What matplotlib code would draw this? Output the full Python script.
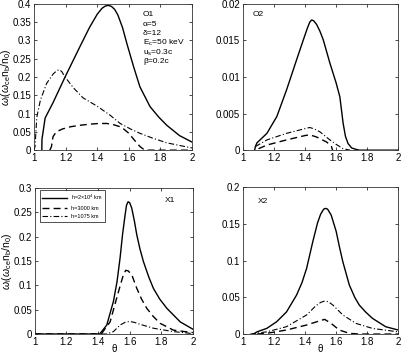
import matplotlib
matplotlib.use('Agg')
import matplotlib.pyplot as plt

plt.rcParams['font.family'] = ['Liberation Sans', 'DejaVu Sans']
plt.rcParams['mathtext.fontset'] = 'custom'
plt.rcParams['mathtext.rm'] = 'Liberation Sans'
plt.rcParams['mathtext.it'] = 'Liberation Sans:italic'

# ---- O1 panel ----
o1_solid_x = [1.049, 1.05, 1.07, 1.12, 1.196, 1.29, 1.35, 1.40, 1.43, 1.45, 1.47, 1.49, 1.51,
              1.53, 1.56, 1.587, 1.63, 1.67, 1.734, 1.79, 1.84, 1.92, 2.0]
o1_solid_y = [0.0, 0.03, 0.088, 0.13, 0.20, 0.283, 0.335, 0.372, 0.388, 0.394, 0.396, 0.393, 0.385,
              0.37, 0.335, 0.292, 0.228, 0.173, 0.119, 0.090, 0.068, 0.040, 0.022]
o1_dash_x = [1.10, 1.11, 1.12, 1.14, 1.18, 1.23, 1.29, 1.35, 1.41, 1.46, 1.50, 1.545, 1.57, 1.60,
             1.63, 1.67, 1.70, 2.0]
o1_dash_y = [0.0, 0.01, 0.037, 0.05, 0.058, 0.064, 0.068, 0.071, 0.073, 0.073, 0.070, 0.064, 0.057,
             0.046, 0.030, 0.01, 0.0, 0.0]
o1_dd_x = [1.0, 1.006, 1.017, 1.04, 1.08, 1.12, 1.145, 1.16, 1.175, 1.196, 1.25, 1.31, 1.40, 1.48,
           1.545, 1.61, 1.67, 1.75, 1.84, 2.0]
o1_dd_y = [0.0, 0.01, 0.09, 0.137, 0.183, 0.208, 0.218, 0.22, 0.215, 0.20, 0.17, 0.143, 0.12, 0.096,
           0.073, 0.058, 0.046, 0.033, 0.02, 0.006]

# ---- O2 panel ----
o2_solid_x = [1.075, 1.08, 1.09, 1.154, 1.218, 1.28, 1.346, 1.389, 1.415, 1.43, 1.442, 1.455, 1.474,
              1.495, 1.517, 1.56, 1.60, 1.624, 1.645, 1.66, 1.677, 1.70, 1.73, 1.75, 2.0]
o2_solid_y = [0.0, 0.0005, 0.001, 0.0023, 0.0046, 0.0082, 0.0124, 0.0151, 0.0167, 0.0175, 0.0178,
              0.0177, 0.0172, 0.0163, 0.0151, 0.0119, 0.0092, 0.0073, 0.0037, 0.0019, 0.0009,
              0.0003, 0.0001, 0.0, 0.0]
o2_dash_x = [1.1, 1.154, 1.28, 1.40, 1.43, 1.474, 1.54, 1.57, 1.577]
o2_dash_y = [0.0002, 0.0007, 0.0014, 0.002, 0.0021, 0.0018, 0.0011, 0.0005, 0.0]
o2_dd_x = [1.08, 1.154, 1.28, 1.41, 1.43, 1.46, 1.496, 1.56, 1.60, 1.645, 1.69]
o2_dd_y = [0.0005, 0.0014, 0.0023, 0.003, 0.0031, 0.0029, 0.0025, 0.0014, 0.0008, 0.0002, 0.0]

# ---- X1 panel ----
x1_solid_x = [1.0, 1.41, 1.455, 1.497, 1.52, 1.539, 1.555, 1.571, 1.58, 1.59, 1.60, 1.613, 1.63,
              1.645, 1.665, 1.687, 1.72, 1.75, 1.79, 1.835, 1.92, 2.0]
x1_solid_y = [0.0, 0.0, 0.0185, 0.067, 0.108, 0.156, 0.205, 0.245, 0.265, 0.272, 0.27, 0.259,
              0.232, 0.204, 0.175, 0.149, 0.118, 0.094, 0.072, 0.053, 0.025, 0.010]
x1_dash_x = [1.0, 1.42, 1.476, 1.51, 1.529, 1.56, 1.575, 1.59, 1.613, 1.645, 1.675, 1.708, 1.75,
             1.793, 1.877, 2.0]
x1_dash_y = [0.0, 0.0, 0.025, 0.065, 0.087, 0.122, 0.131, 0.13, 0.122, 0.094, 0.072, 0.053, 0.036,
             0.022, 0.008, 0.003]
x1_dd_x = [1.0, 1.455, 1.497, 1.539, 1.57, 1.60, 1.63, 1.666, 1.75, 1.877, 2.0]
x1_dd_y = [0.0, 0.0, 0.005, 0.0185, 0.024, 0.026, 0.024, 0.02, 0.012, 0.005, 0.001]

# ---- X2 panel ----
x2_solid_x = [1.068, 1.09, 1.153, 1.217, 1.28, 1.345, 1.38, 1.41, 1.45, 1.48, 1.50, 1.52, 1.532,
              1.545, 1.568, 1.60, 1.62, 1.643, 1.685, 1.72, 1.749, 1.79, 1.834, 1.919, 2.0]
x2_solid_y = [0.0, 0.003, 0.0077, 0.0168, 0.030, 0.053, 0.070, 0.0895, 0.126, 0.151, 0.163, 0.170,
              0.171, 0.170, 0.162, 0.14, 0.12, 0.0986, 0.0668, 0.050, 0.0395, 0.030, 0.0214, 0.010,
              0.0055]
x2_dash_x = [1.09, 1.153, 1.28, 1.41, 1.494, 1.526, 1.568, 1.62, 1.685, 1.75, 2.0]
x2_dash_y = [0.0, 0.001, 0.0055, 0.0123, 0.018, 0.020, 0.0145, 0.0055, 0.001, 0.0, 0.0]
x2_dd_x = [1.047, 1.153, 1.28, 1.41, 1.47, 1.50, 1.526, 1.55, 1.579, 1.643, 1.728, 1.834, 2.0]
x2_dd_y = [0.0, 0.003, 0.010, 0.026, 0.0386, 0.043, 0.045, 0.044, 0.0395, 0.026, 0.0145, 0.0077,
           0.003]

legend_labels = [r'h=2$\times$10$^4$ km', 'h=3000 km', 'h=1075 km']
xticks = [1, 1.2, 1.4, 1.6, 1.8, 2]
xtick_labels = ['1', '1.2', '1.4', '1.6', '1.8', '2']
ylabel = r'$\omega_\mathrm{i}(\omega_\mathrm{ce}\mathrm{n_b/n_0})$'

fig = plt.figure(figsize=(4.01, 3.55), dpi=100)
ax1 = fig.add_axes([0.085, 0.577, 0.394, 0.412])
ax2 = fig.add_axes([0.606, 0.577, 0.387, 0.412])
ax3 = fig.add_axes([0.087, 0.059, 0.394, 0.411])
ax4 = fig.add_axes([0.606, 0.059, 0.387, 0.414])

lw = 1.0
dash = (0, (5, 3))
dashdot = (0, (5, 2, 1, 2))

panels = [
    (ax1, o1_solid_x, o1_solid_y, o1_dash_x, o1_dash_y, o1_dd_x, o1_dd_y, 0.4,
     [0, 0.05, 0.1, 0.15, 0.2, 0.25, 0.3, 0.35, 0.4], ['0', '0.05', '0.1', '0.15', '0.2', '0.25', '0.3', '0.35', '0.4']),
    (ax2, o2_solid_x, o2_solid_y, o2_dash_x, o2_dash_y, o2_dd_x, o2_dd_y, 0.02,
     [0, 0.005, 0.01, 0.015, 0.02], ['0', '0.005', '0.01', '0.015', '0.02']),
    (ax3, x1_solid_x, x1_solid_y, x1_dash_x, x1_dash_y, x1_dd_x, x1_dd_y, 0.3,
     [0, 0.05, 0.1, 0.15, 0.2, 0.25, 0.3], ['0', '0.05', '0.1', '0.15', '0.2', '0.25', '0.3']),
    (ax4, x2_solid_x, x2_solid_y, x2_dash_x, x2_dash_y, x2_dd_x, x2_dd_y, 0.2,
     [0, 0.05, 0.1, 0.15, 0.2], ['0', '0.05', '0.1', '0.15', '0.2']),
]

for ax, sx, sy, dx, dy, ddx, ddy, ymax, yt, ytl in panels:
    ax.plot(sx, sy, color='black', lw=lw, linestyle='-', label=legend_labels[0])
    ax.plot(dx, dy, color='black', lw=lw, linestyle=dash, label=legend_labels[1])
    ax.plot(ddx, ddy, color='black', lw=0.8, linestyle=dashdot, label=legend_labels[2])
    ax.set_xlim(1, 2)
    ax.set_ylim(0, ymax)
    ax.set_xticks(xticks)
    ax.set_xticklabels(xtick_labels)
    ax.set_yticks(yt)
    ax.set_yticklabels(ytl)
    ax.tick_params(direction='in', top=True, right=True, length=2.5, width=0.5,
                   labelsize=7, pad=2)
    for s in ax.spines.values():
        s.set_linewidth(0.6)
        s.set_color('#333333')

ax1.set_ylabel(ylabel, fontsize=7.5)
ax3.set_ylabel(ylabel, fontsize=7.5)
ax1.yaxis.set_label_coords(-0.135, 0.5)
ax3.yaxis.set_label_coords(-0.135, 0.5)
ax3.set_xlabel('θ', fontsize=7)
ax4.set_xlabel('θ', fontsize=7)
ax3.xaxis.set_label_coords(0.5, -0.07)
ax4.xaxis.set_label_coords(0.5, -0.07)

# O1 annotations
o1_notes = ['O1', 'α=5', 'δ=12', r'E$_\mathrm{c}$=50 keV', r'u$_\mathrm{s}$=0.3c', 'β=0.2c']
o1_note_y = [0.93, 0.858, 0.795, 0.73, 0.664, 0.603]
for t, yy in zip(o1_notes, o1_note_y):
    ax1.text(0.69, yy, t, transform=ax1.transAxes, fontsize=6, va='center', ha='left')

ax2.text(0.065, 0.925, 'O2', transform=ax2.transAxes, fontsize=6, va='center', ha='left')
ax3.text(0.82, 0.918, 'X1', transform=ax3.transAxes, fontsize=6, va='center', ha='left')
ax4.text(0.097, 0.9, 'X2', transform=ax4.transAxes, fontsize=6, va='center', ha='left')

leg = ax3.legend(loc='upper left', bbox_to_anchor=(0.03, 0.985), fontsize=4,
                 handlelength=4.5, frameon=True, fancybox=False, borderpad=0.5,
                 labelspacing=0.6, handletextpad=0.6, borderaxespad=0)
leg.get_frame().set_edgecolor('black')
leg.get_frame().set_linewidth(0.6)

fig.savefig('out.png', dpi=100)
